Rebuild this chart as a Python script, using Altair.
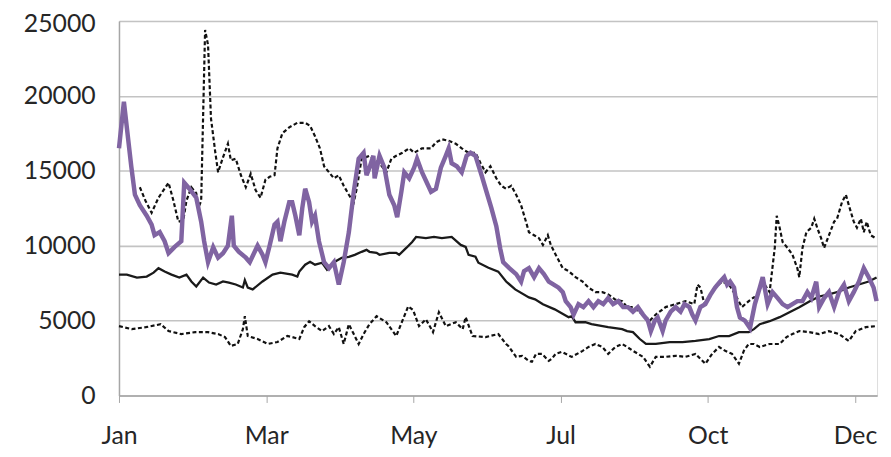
import altair as alt
import pandas as pd

# x is a day-like index; ticks every 60 units
tick_positions = [0, 60, 120, 180, 240, 300]
month_labels = ["Jan", "Mar", "May", "Jul", "Oct", "Dec"]
y_ticks = [0, 5000, 10000, 15000, 20000, 25000]

purple_x = [0, 2, 5, 6.5, 8.5, 11.3, 13.3, 14.5, 16.6, 18.6, 20.2, 22.6, 25.4, 26.6, 28.7, 31.5,
            33.5, 34.7, 36.3, 38.4, 40.4, 42.4, 44.4, 46, 46.8, 48.8, 51.7, 53.3, 56.5, 58.5, 59.7,
            61.4, 63.4, 64.6, 65.8, 67.4, 69.4, 70.6, 71.9, 73.5, 74.7, 75.9, 77.5, 78.7, 79.9,
            81.5, 83.6, 85.6, 87.6, 89.6, 91.6, 93.7, 95.7, 97.7, 99.7, 100.9, 102.1, 103.7, 104.2,
            106.2, 108.2, 110.2, 112.2, 113.4, 115.1, 116.3, 118.3, 120.3, 121.5, 123.5, 125.5,
            127.2, 129.2, 131.2, 133.2, 134.4, 135.6, 137.7, 139.7, 141.7, 143.3, 145.3, 147.8,
            149.8, 151.8, 153.8, 155.4, 156.6, 159.1, 161.9, 163.9, 165.1, 167.1, 169.2, 171.2,
            173.2, 175.2, 177.2, 179.2, 180.9, 182.1, 184.1, 185.3, 187.3, 189.3, 191.4, 193.4,
            195.4, 197.4, 199.4, 201.4, 203.5, 205.5, 207.5, 209.5, 211.5, 213.6, 215.6, 216.8,
            218.4, 219.6, 221.6, 222.8, 224.9, 226.9, 228.9, 230.5, 232.5, 233.7, 235, 237, 239,
            241, 243, 245, 246.7, 247.9, 249.1, 250.7, 251.9, 253.1, 255.1, 257.2, 259.2, 261.2,
            262.4, 264.4, 266.4, 268.5, 270.5, 272.5, 274.5, 276.5, 278.6, 280.6, 282.2, 284.2,
            285.4, 287.4, 289.4, 291.5, 293.5, 295.5, 297.5, 299.5, 301.6, 303.6, 305.6, 307.6, 308.8]
purple_y = [16500, 19600, 15300, 13400, 12700, 12000, 11400, 10700, 10900, 10300, 9500, 9900, 10300,
            14200, 13800, 13200, 11600, 10300, 8900, 9900, 9200, 9500, 10000, 12000, 10000, 9600,
            9200, 8900, 10000, 9400, 8900, 10000, 11400, 11600, 10300, 11600, 12900, 12900, 12000,
            10700, 12500, 13800, 12900, 11600, 12000, 10300, 8900, 8500, 8900, 7400, 8900, 10900,
            13600, 15800, 16200, 14700, 15200, 16000, 14500, 16000, 15200, 13400, 12700, 11900,
            13600, 14900, 14500, 15200, 15800, 14900, 14200, 13600, 13800, 15200, 16000, 16500,
            15500, 15300, 14900, 16000, 16200, 16000, 14700, 13600, 12500, 11300, 9800, 8900, 8500,
            8100, 7600, 8300, 8500, 7900, 8500, 8100, 7600, 7400, 7200, 6900, 6300, 5900, 5400,
            6100, 5900, 6300, 5900, 6300, 6100, 6500, 6100, 6300, 5900, 5900, 5600, 5900, 5400,
            5000, 4300, 5000, 5200, 4300, 5000, 5600, 5900, 5600, 6100, 5900, 5400, 5000, 5900,
            6100, 6700, 7200, 7600, 7900, 7400, 7600, 7200, 5900, 5200, 5000, 4500, 6100, 7200,
            7900, 6100, 6900, 6500, 6100, 5900, 6100, 6300, 6300, 6900, 6500, 7600, 5900, 6500,
            6900, 5900, 6900, 7400, 6300, 6900, 7600, 8500, 7900, 7200, 6300]

median_x = [0, 3.2, 7.3, 11.3, 14.1, 16.1, 18.6, 21.4, 24.6, 27.5, 29.5, 31.5, 34.3, 36.7, 39.6,
            42.4, 44.8, 47.6, 50.5, 51.3, 52.5, 54.5, 58.5, 62.6, 65.8, 70.6, 72.7, 73.5, 75.9,
            77.9, 79.9, 82.8, 84.8, 85.6, 88, 90.8, 93.7, 96.1, 98.9, 100.9, 102.1, 105, 106.2,
            110.2, 113, 114.2, 117.1, 119.5, 121.1, 125.1, 128.4, 131.6, 135.6, 139.3, 141.3,
            142.5, 145.3, 146.5, 150.6, 154.6, 157.8, 161.5, 167.1, 169.6, 172.8, 177.6, 183.3,
            184.5, 186.1, 190.1, 192.6, 199.4, 205.1, 207.1, 209.5, 212.3, 214.8, 218.8, 224.5,
            229.7, 235, 240.6, 244.6, 248.7, 252.7, 256.7, 258.8, 261.2, 265.2, 269.3, 273.3,
            277.3, 281.4, 285.4, 289.4, 293.5, 297.5, 301.6, 305.6, 308.8]
median_y = [8070, 8070, 7870, 7940, 8200, 8500, 8270, 8070, 7870, 8070, 7610, 7280, 7870, 7540, 7410,
            7610, 7540, 7410, 7210, 7700, 7200, 7080, 7610, 8070, 8200, 8070, 7940, 8270, 8730,
            8930, 8730, 8860, 8400, 8530, 8930, 9190, 9260, 9390, 9590, 9720, 9590, 9520, 9390,
            9520, 9520, 9390, 9850, 10250, 10580, 10510, 10580, 10510, 10580, 10050, 9920, 9390,
            9260, 8860, 8530, 8270, 7610, 7080, 6550, 6420, 6090, 5750, 5230, 5290, 4890, 4890,
            4760, 4560, 4430, 4300, 4230, 3770, 3440, 3440, 3570, 3570, 3640, 3770, 3970, 3970,
            4230, 4230, 4430, 4760, 4960, 5230, 5560, 5890, 6280, 6610, 6750, 6940, 7210, 7410,
            7610, 7870]

upper_x = [8.5, 10.8, 13.3, 16.1, 20.2, 22.2, 24.2, 26.2, 27.5, 29.5, 31.5, 32.3, 33.5, 35.1, 36.3,
           37.5, 39.2, 40.4, 42.4, 44.4, 45.6, 47.6, 49.7, 51.7, 53.7, 55.7, 57.7, 59.7, 61.4,
           63.4, 64.6, 66.6, 69.4, 72.7, 75.9, 77.9, 79.9, 81.9, 83.6, 85.6, 87.6, 89.6, 91.6,
           93.7, 95.7, 96.9, 98.9, 102.1, 106.2, 109, 111, 113, 115.5, 118.3, 120.3, 123.5, 127.2,
           129.2, 131.6, 134.4, 137.3, 139.7, 142.5, 145.3, 147.4, 149.4, 151.4, 153.8, 155.8,
           157.8, 159.9, 161.9, 163.9, 165.9, 167.1, 169.2, 171.2, 172.8, 174.8, 176, 178, 180.9,
           183.3, 186.1, 189, 191.4, 194.2, 197, 199.4, 202.3, 205.1, 207.1, 209.5, 213.6, 216.4,
           218.8, 222.8, 226.9, 230.9, 234.5, 235.8, 237, 238.6, 240.6, 243, 245.8, 248.7, 251.1,
           253.9, 256.7, 258.8, 260, 262.4, 265.2, 267.3, 268.1, 269.3, 270.5, 272.5, 274.5,
           276.5, 277.3, 278.6, 280.2, 282.2, 283.4, 284.6, 286.2, 287.4, 289.4, 291.5, 292.7,
           294.7, 296.3, 297.5, 299.5, 300.8, 302.4, 303.6, 304.8, 306.4, 308.4]
upper_y = [13900, 13000, 12200, 13200, 14200, 13000, 11600, 11700, 13000, 13900, 13500, 12500, 13000,
           24400, 23400, 18500, 16300, 14900, 15900, 16800, 15700, 15800, 14700, 13900, 14800,
           13700, 13200, 14400, 14600, 14700, 16500, 17500, 17900, 18200, 18200, 18000, 17300,
           16500, 15300, 14900, 14500, 14700, 14000, 13400, 12900, 13800, 15800, 16000, 15500,
           14900, 15800, 16000, 16200, 16500, 16200, 16500, 16500, 16900, 17100, 17000, 16800,
           16500, 16200, 16200, 15500, 14900, 15300, 14500, 14000, 13800, 14000, 13400, 12700,
           11600, 10900, 10700, 10500, 10050, 10700, 10050, 9400, 8500, 8300, 7900, 7600, 7200,
           6900, 6900, 6750, 6400, 6300, 5900, 5900, 5400, 5000, 5400, 5900, 6100, 6300, 6100,
           7400, 7200, 6100, 6550, 7200, 7600, 7400, 6750, 5900, 6300, 6550, 6550, 7600, 6900,
           9850, 12000, 11200, 10250, 9850, 9400, 8500, 7900, 9850, 10900, 11200, 11800, 11200,
           10500, 9850, 10700, 11600, 11800, 12900, 13400, 12700, 11600, 11200, 11800, 10900,
           11600, 10700, 10500]

lower_x = [0, 5.2, 10.9, 17, 20.2, 25.4, 31.1, 36.3, 40.4, 43.2, 45.6, 48.4, 50.5, 51.3, 52.5, 56.5,
           60.6, 64.6, 68.6, 70.6, 73.5, 75.5, 77.5, 79.9, 82.8, 85.6, 87.6, 89.6, 91.6, 93.7,
           95.7, 97.7, 99.7, 102.1, 105, 109, 113, 117.9, 119.9, 122.3, 125.1, 128, 130.4, 133.2,
           137.3, 140.1, 141.3, 144.1, 149.4, 154.6, 157.8, 158.7, 161.9, 164.3, 167.1, 168.3, 170,
           172.4, 175.2, 176.4, 178, 180.5, 184.5, 189, 191.4, 194.2, 197, 199.4, 202.3, 205.1,
           207.1, 209.5, 213.6, 216.4, 218.8, 222.8, 226.9, 230.9, 235, 239, 241.8, 244.6, 247.1,
           249.9, 252.7, 254.7, 256.7, 258.8, 261.2, 265.2, 269.3, 272.1, 274.5, 277.3, 281.4,
           285.4, 289.4, 293.5, 297.5, 300.3, 304.4, 308.4]
lower_y = [4630, 4430, 4560, 4760, 4300, 4100, 4230, 4230, 4100, 3900, 3310, 3440, 4430, 5290, 3970,
           3770, 3440, 3570, 3970, 3900, 3770, 4560, 4960, 4630, 4300, 4630, 4100, 4560, 3440,
           4760, 4100, 3440, 4100, 4760, 5290, 4890, 3970, 5950, 5700, 4630, 5090, 4230, 5560,
           4630, 4890, 4430, 5230, 3970, 3900, 4100, 3440, 3310, 2580, 2650, 2310, 2250, 2780,
           2780, 2310, 2450, 2780, 2910, 2580, 2980, 3240, 3440, 3240, 2780, 3240, 3440, 3240,
           2980, 2580, 1920, 2580, 2580, 2650, 2580, 2780, 2120, 2780, 3240, 2980, 2780, 2120,
           2980, 3440, 3440, 3240, 3440, 3440, 3900, 4100, 4300, 4230, 4100, 4300, 4100, 3640,
           4300, 4560, 4630]

FONT = "Lato"
label_expr = " : ".join(
    f"datum.value == {p} ? '{m}'" for p, m in zip(tick_positions, month_labels)
) + " : ''"

x_enc = alt.X(
    "x:Q",
    scale=alt.Scale(domain=[0, 309], nice=False, zero=False),
    axis=alt.Axis(
        values=tick_positions, labelExpr=label_expr, title=None, grid=False,
        tickSize=7, tickColor="#a6a6a6", domainColor="#a6a6a6", domainWidth=1.5,
        labelPadding=21, labelFontSize=25, labelFont=FONT, labelColor="#262626",
        labelAlign="center",
    ),
)
y_enc = alt.Y(
    "y:Q",
    scale=alt.Scale(domain=[0, 25000], nice=False),
    axis=alt.Axis(
        values=y_ticks, title=None, grid=True, gridColor="#c3c3c3", gridWidth=1.6,
        ticks=False, domain=True, domainColor="#a6a6a6", domainWidth=1.5,
        labelPadding=24, labelFontSize=25, labelFont=FONT, labelColor="#262626",
        labelOffset={"condition": {"test": f"datum.value == {y_ticks[-1]}", "value": 3}, "value": 0},
        format="d",
    ),
)


def line(xs, ys, color, width, dash=None):
    df = pd.DataFrame({"x": xs, "y": ys})
    kwargs = dict(color=color, strokeWidth=width, interpolate="linear")
    if dash:
        kwargs["strokeDash"] = dash
    return alt.Chart(df).mark_line(**kwargs).encode(x=x_enc, y=y_enc)


chart = alt.layer(
    line(lower_x, lower_y, "#111111", 2.2, [4, 2.5]),
    line(median_x, median_y, "#1a1a1a", 2.3),
    line(upper_x, upper_y, "#111111", 2.2, [4, 2.5]),
    line(purple_x, purple_y, "#8064A2", 4.5),
).properties(
    width=765, height=378,
    autosize=alt.AutoSizeParams(type="none"),
    padding={"left": 112, "top": 11, "right": 6, "bottom": 60},
).configure_view(stroke=None).configure(background="white")

chart.save("out.html", embed_options={"renderer": "svg", "actions": False})
